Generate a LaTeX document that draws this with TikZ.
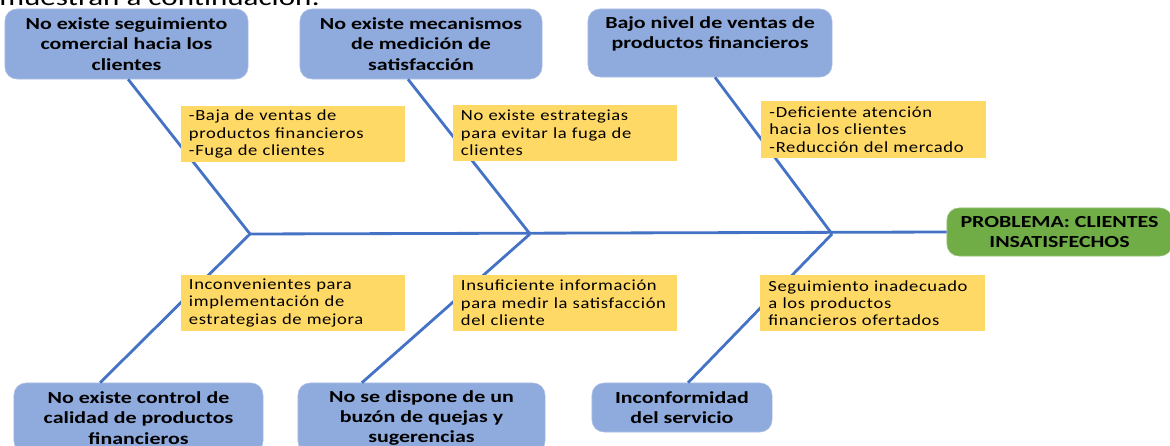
\documentclass[tikz,border=0pt]{standalone}
\usepackage{fontspec}
\setmainfont{Carlito}
\newfontfamily\causefont[FakeStretch=1.3]{Carlito}
\newfontfamily\notefont[FakeStretch=1.2, LetterSpace=4]{Carlito}
\usepackage{tikz}
\definecolor{causeblue}{HTML}{8FAADC}
\definecolor{noteyellow}{HTML}{FFD966}
\definecolor{probgreen}{HTML}{70AD47}
\definecolor{boneblue}{HTML}{4472C4}

\begin{document}
\begin{tikzpicture}[x=0.025cm, y=-0.025cm,
    cause/.style={rectangle, rounded corners=0.3cm, fill=causeblue, draw=causeblue!75!white, align=center, inner sep=2pt, font=\causefont\bfseries\fontsize{12}{14.5}\selectfont},
    note/.style={rectangle, fill=noteyellow, align=left, text width=5.2cm, inner xsep=0.2cm, inner ysep=1pt, minimum height=1.4cm, font=\notefont\fontsize{11}{12.3}\selectfont},
    bone/.style={draw=boneblue, line width=2pt}]
    \useasboundingbox (0,0) rectangle (1170,446);
    \node[anchor=base west, inner sep=0pt, font=\causefont\fontsize{17}{20}\selectfont] (intro) at (-1,6) {muestran a continuación:};
    % causas
    \node[cause, minimum width=6.075cm, minimum height=1.75cm] (c1) at (126.5,44) {No existe seguimiento\\comercial hacia los\\clientes};
    \node[cause, minimum width=6.05cm, minimum height=1.75cm] (c2) at (421,44) {No existe mecanismos\\de medición de\\satisfacción};
    \node[cause, minimum width=6.1cm, minimum height=1.7cm] (c3) at (710,43) {Bajo nivel de ventas de\\productos financieros\\\mbox{}};
    \node[cause, minimum width=6.225cm, minimum height=1.75cm] (d1) at (138.5,418) {No existe control de\\calidad de productos\\financieros};
    \node[cause, minimum width=6.175cm, minimum height=1.75cm] (d2) at (421.5,418) {No se dispone de un\\buzón de quejas y\\sugerencias};
    \node[cause, minimum width=4.5cm, minimum height=1.225cm] (d3) at (682,407.5) {Inconformidad\\del servicio};
    \node[cause, fill=probgreen, draw=probgreen!75!white, minimum width=5.625cm, minimum height=1.2cm] (g) at (1059.5,232) {PROBLEMA: CLIENTES\\INSATISFECHOS};
    % espina
    \coordinate (j1) at (250,234);
    \coordinate (j2) at (530,234);
    \coordinate (j3) at (832,234);
    \draw[bone] (j1) -- (g.west);
    \draw[bone] ([xshift=0.04cm]c1.south) -- (j1);
    \draw[bone] ([xshift=-0.325cm]c2.south) -- (j2);
    \draw[bone] ([xshift=0.125cm]c3.south) -- (j3);
    \draw[bone] (j1) -- ([xshift=-0.96cm]d1.north);
    \draw[bone] (j2) -- ([xshift=-1.49cm]d2.north);
    \draw[bone] (j3) -- ([xshift=0.15cm]d3.north);
    % notas
    \node[note] (n1) at (293,134) {-Baja de ventas de\\productos financieros\\-Fuga de clientes};
    \node[note] (n2) at (565,133) {No existe estrategias\\para evitar la fuga de\\clientes};
    \node[note] (n3) at (873.5,129.5) {-Deficiente atención\\hacia los clientes\\-Reducción del mercado};
    \node[note] (m1) at (293,303) {Inconvenientes para\\implementación de\\estrategias de mejora};
    \node[note] (m2) at (565,303) {Insuficiente información\\para medir la satisfacción\\del cliente};
    \node[note] (m3) at (872.5,303) {Seguimiento inadecuado\\a los productos\\financieros ofertados};
\end{tikzpicture}
\end{document}
